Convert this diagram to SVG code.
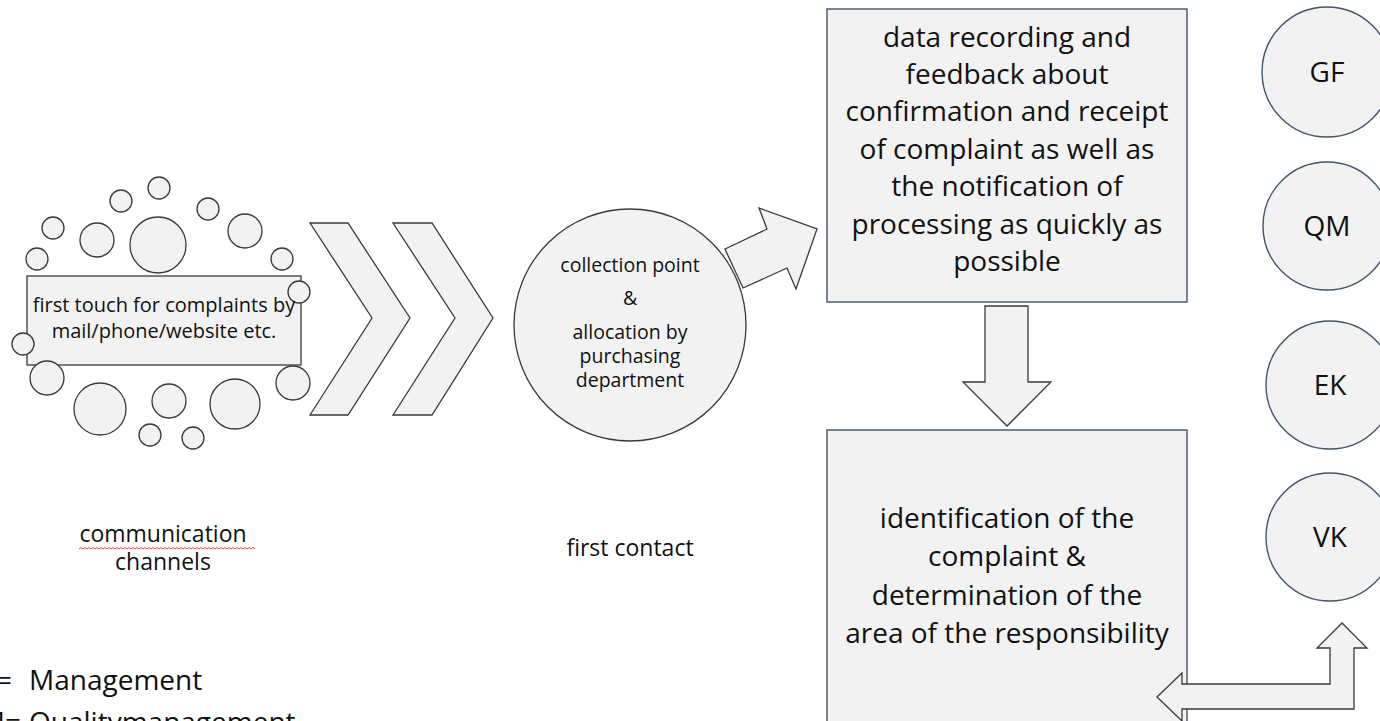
<svg xmlns="http://www.w3.org/2000/svg" width="1380" height="721" viewBox="0 0 1380 721">
  <style>
    .shape { fill: #f2f2f2; stroke: #3a3a3a; stroke-width: 1.3; }
    .box { fill: #f2f2f2; stroke: #44546a; stroke-width: 1.4; }
    .role { fill: #f2f2f2; stroke: #44546a; stroke-width: 1.4; }
    .txt { font-family: "Open Sans", "Noto Sans", "Liberation Sans", sans-serif; fill: #111; }
    .mid { text-anchor: middle; }
    .s19 { font-size: 19.5px; }
    .s20 { font-size: 20px; }
    .s23 { font-size: 23px; }
    .s28 { font-size: 28px; }
  </style>

  <rect width="1380" height="721" fill="#ffffff"/>

  <!-- block arrows and chevrons between the stages -->
  <g id="connectors">
    <polygon class="shape" points="310,223 348,223 410,318 348,415 310,415 372,318"/>
    <polygon class="shape" points="393,223 432,223 493,318 432,415 393,415 455,318"/>
    <polygon class="shape" points="725,249 767,229 759,208 817,229 796,289 787,268 743,288"/>
    <polygon class="shape" points="985,306 1028,306 1028,382 1051,382 1007,426 963,382 985,382"/>
  </g>

  <!-- communication channels: message box surrounded by bubbles -->
  <g id="channels">
    <rect class="shape" x="27" y="276" width="274" height="89"/>
    <circle class="shape" cx="159" cy="188" r="11"/>
    <circle class="shape" cx="121" cy="201" r="11"/>
    <circle class="shape" cx="208" cy="209" r="11"/>
    <circle class="shape" cx="53" cy="228" r="11"/>
    <circle class="shape" cx="97" cy="240" r="17"/>
    <circle class="shape" cx="158" cy="245" r="28"/>
    <circle class="shape" cx="245" cy="231" r="17"/>
    <circle class="shape" cx="37" cy="259" r="11"/>
    <circle class="shape" cx="282" cy="259" r="11"/>
    <circle class="shape" cx="299" cy="292" r="11"/>
    <circle class="shape" cx="23" cy="344" r="11"/>
    <circle class="shape" cx="47" cy="378" r="17"/>
    <circle class="shape" cx="100" cy="409" r="26"/>
    <circle class="shape" cx="169" cy="401" r="17"/>
    <circle class="shape" cx="235" cy="404" r="25"/>
    <circle class="shape" cx="293" cy="383" r="17"/>
    <circle class="shape" cx="150" cy="435" r="11"/>
    <circle class="shape" cx="193" cy="438" r="11"/>
    <text class="txt mid s20" x="164" y="312">first touch for complaints by</text>
    <text class="txt mid s20" x="164" y="338">mail/phone/website etc.</text>
  </g>

  <g id="channels-label">
    <text class="txt mid s23" x="163" y="542">communication</text>
    <path d="M79,549 l2,-1.5 l2,1.5 l2,-1.5 l2,1.5 l2,-1.5 l2,1.5 l2,-1.5 l2,1.5 l2,-1.5 l2,1.5 l2,-1.5 l2,1.5 l2,-1.5 l2,1.5 l2,-1.5 l2,1.5 l2,-1.5 l2,1.5 l2,-1.5 l2,1.5 l2,-1.5 l2,1.5 l2,-1.5 l2,1.5 l2,-1.5 l2,1.5 l2,-1.5 l2,1.5 l2,-1.5 l2,1.5 l2,-1.5 l2,1.5 l2,-1.5 l2,1.5 l2,-1.5 l2,1.5 l2,-1.5 l2,1.5 l2,-1.5 l2,1.5 l2,-1.5 l2,1.5 l2,-1.5 l2,1.5 l2,-1.5 l2,1.5 l2,-1.5 l2,1.5 l2,-1.5 l2,1.5 l2,-1.5 l2,1.5 l2,-1.5 l2,1.5 l2,-1.5 l2,1.5 l2,-1.5 l2,1.5 l2,-1.5 l2,1.5 l2,-1.5 l2,1.5 l2,-1.5 l2,1.5 l2,-1.5 l2,1.5 l2,-1.5 l2,1.5 l2,-1.5 l2,1.5 l2,-1.5 l2,1.5 l2,-1.5 l2,1.5 l2,-1.5 l2,1.5 l2,-1.5 l2,1.5 l2,-1.5 l2,1.5 l2,-1.5 l2,1.5 l2,-1.5 l2,1.5 l2,-1.5 l2,1.5 l2,-1.5 l2,1.5" fill="none" stroke="#e03030" stroke-width="0.9"/>
    <text class="txt mid s23" x="163" y="570">channels</text>
  </g>

  <!-- first contact -->
  <g id="collection">
    <circle class="shape" cx="630" cy="325" r="116"/>
    <text class="txt mid s19" x="630" y="272">collection point</text>
    <text class="txt mid s19" x="630" y="305">&amp;</text>
    <text class="txt mid s19" x="630" y="339">allocation by</text>
    <text class="txt mid s19" x="630" y="363">purchasing</text>
    <text class="txt mid s19" x="630" y="387">department</text>
  </g>
  <g id="first-contact-label">
    <text class="txt mid s23" x="630" y="556">first contact</text>
  </g>

  <!-- recording step -->
  <g id="recording">
    <rect class="box" x="827" y="9" width="360" height="293"/>
    <text class="txt mid s28" x="1007" y="47">data recording and</text>
    <text class="txt mid s28" x="1007" y="84">feedback about</text>
    <text class="txt mid s28" x="1007" y="121">confirmation and receipt</text>
    <text class="txt mid s28" x="1007" y="159">of complaint as well as</text>
    <text class="txt mid s28" x="1007" y="196">the notification of</text>
    <text class="txt mid s28" x="1007" y="234">processing as quickly as</text>
    <text class="txt mid s28" x="1007" y="271">possible</text>
  </g>

  <!-- identification step -->
  <g id="identification">
    <rect class="box" x="827" y="430" width="360" height="320"/>
    <text class="txt mid s28" x="1007" y="528">identification of the</text>
    <text class="txt mid s28" x="1007" y="566">complaint &amp;</text>
    <text class="txt mid s28" x="1007" y="605">determination of the</text>
    <text class="txt mid s28" x="1007" y="643">area of the responsibility</text>
  </g>

  <!-- two-way exchange with the departments -->
  <g id="exchange">
    <polygon class="shape" points="1157,697 1182,673 1182,684 1330,684 1330,648 1317,648 1342,623 1367,648 1354,648 1354,709 1182,709 1182,721"/>
  </g>

  <!-- departments -->
  <g id="role-gf">
    <circle class="role" cx="1327" cy="72" r="65"/>
    <text class="txt mid s28" x="1327" y="82">GF</text>
  </g>
  <g id="role-qm">
    <circle class="role" cx="1327" cy="226" r="64"/>
    <text class="txt mid s28" x="1327" y="236">QM</text>
  </g>
  <g id="role-ek">
    <circle class="role" cx="1330" cy="385" r="64"/>
    <text class="txt mid s28" x="1330" y="395">EK</text>
  </g>
  <g id="role-vk">
    <circle class="role" cx="1330" cy="537" r="64"/>
    <text class="txt mid s28" x="1330" y="547">VK</text>
  </g>

  <!-- legend, running off the left and bottom edges -->
  <g id="legend">
    <text class="txt s28" x="12" y="690" text-anchor="end">GF=</text>
    <text class="txt s28" x="29" y="690">Management</text>
    <text class="txt s28" x="21" y="732" text-anchor="end">QM=</text>
    <text class="txt s28" x="29" y="732">Qualitymanagement</text>
  </g>
</svg>
